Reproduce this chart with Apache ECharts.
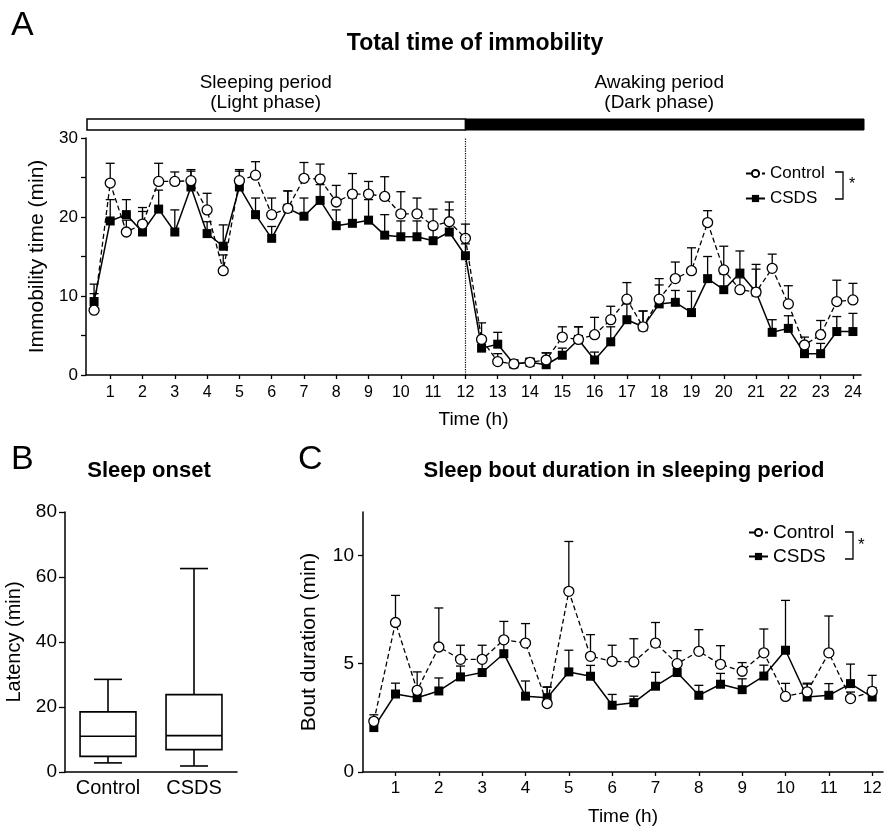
<!DOCTYPE html>
<html>
<head>
<meta charset="utf-8">
<script src="https://cdn.jsdelivr.net/npm/echarts@6/dist/echarts.min.js"></script>
<style>
  html, body { margin: 0; padding: 0; background: #fff; }
  #chart { width: 885px; height: 831px; }
</style>
</head>
<body>
<div id="chart"></div>
<script>
// Panel A: total time of immobility, every 30 min over 24 h
let hoursA = [0.5, 1, 1.5, 2, 2.5, 3, 3.5, 4, 4.5, 5, 5.5, 6, 6.5, 7, 7.5, 8, 8.5, 9, 9.5, 10, 10.5, 11, 11.5, 12,
  12.5, 13, 13.5, 14, 14.5, 15, 15.5, 16, 16.5, 17, 17.5, 18, 18.5, 19, 19.5, 20, 20.5, 21, 21.5, 22, 22.5, 23, 23.5, 24]
let controlA = [8.2, 24.3, 18.1, 19.1, 24.5, 24.5, 24.6, 20.9, 13.2, 24.6, 25.3, 20.3, 21.1, 24.9, 24.8, 21.9, 22.9, 22.9, 22.6, 20.4, 20.4, 18.9, 19.4, 17.3,
  4.5, 1.7, 1.4, 1.6, 1.9, 4.8, 4.5, 5.1, 7.0, 9.6, 6.1, 9.6, 12.2, 13.2, 19.3, 13.3, 10.8, 10.5, 13.5, 9.0, 3.8, 5.1, 9.3, 9.5]
let controlAErr = [2.1, 2.5, 1.5, 2.1, 2.3, 1.2, 1.4, 2.1, 2.0, 1.4, 1.7, 2.1, 2.2, 2.0, 1.9, 2.1, 2.6, 1.6, 2.5, 2.8, 2.0, 2.1, 2.5, 1.8,
  2.1, 1.0, 0.5, 0.5, 0.9, 1.3, 1.6, 2.2, 1.7, 2.1, 2.0, 2.6, 2.1, 2.9, 1.5, 3.0, 1.5, 2.9, 1.8, 2.3, 1.0, 1.8, 2.7, 2.1]
let csdsA = [9.3, 19.5, 20.3, 18.1, 21.0, 18.1, 23.8, 17.9, 16.3, 23.8, 20.3, 17.3, 21.1, 20.1, 22.1, 18.9, 19.2, 19.6, 17.7, 17.5, 17.5, 17.0, 18.1, 15.1,
  3.4, 3.9, 1.4, 1.6, 1.3, 2.5, 4.5, 1.9, 4.2, 7.0, 6.1, 9.0, 9.2, 7.9, 12.2, 10.8, 12.9, 10.5, 5.4, 5.9, 2.7, 2.7, 5.5, 5.5]
let csdsAErr = [2.2, 2.7, 1.9, 2.6, 2.4, 2.8, 2.0, 1.5, 2.7, 2.0, 2.1, 1.5, 2.2, 2.3, 2.0, 2.0, 3.2, 2.6, 2.6, 2.0, 2.0, 1.5, 2.8, 1.5,
  1.5, 1.5, 0.3, 0.5, 1.5, 0.9, 1.6, 1.0, 1.9, 2.0, 2.0, 2.4, 1.5, 2.7, 2.8, 2.0, 2.8, 3.5, 1.6, 1.6, 1.2, 1.3, 1.9, 2.3]
let ticksA = [1, 2, 3, 4, 5, 6, 7, 8, 9, 10, 11, 12, 13, 14, 15, 16, 17, 18, 19, 20, 21, 22, 23, 24]

// Panel B: sleep onset latency, [min, Q1, median, Q3, max]
let groupsB = ['Control', 'CSDS']
let boxB = [
  [2.8, 4.8, 11.0, 18.5, 28.5],
  [1.85, 6.9, 11.2, 23.8, 62.6]
]

// Panel C: sleep bout duration during the sleeping period
let hoursC = [0.5, 1, 1.5, 2, 2.5, 3, 3.5, 4, 4.5, 5, 5.5, 6, 6.5, 7, 7.5, 8, 8.5, 9, 9.5, 10, 10.5, 11, 11.5, 12]
let controlC = [2.34, 6.9, 3.77, 5.77, 5.2, 5.2, 6.1, 5.95, 3.16, 8.34, 5.34, 5.11, 5.08, 5.95, 5.0, 5.57, 4.97, 4.65, 5.5, 3.49, 3.7, 5.5, 3.39, 3.72]
let controlCErr = [0.3, 1.25, 0.85, 1.8, 0.65, 0.65, 0.85, 0.9, 0.75, 2.3, 1.0, 0.74, 1.07, 0.95, 0.6, 1.0, 0.86, 0.4, 1.1, 0.6, 0.4, 1.7, 0.3, 0.74]
let csdsC = [2.05, 3.6, 3.43, 3.74, 4.39, 4.59, 5.46, 3.5, 3.43, 4.62, 4.42, 3.08, 3.2, 3.96, 4.59, 3.54, 4.05, 3.8, 4.43, 5.62, 3.46, 3.54, 4.08, 3.46]
let csdsCErr = [0.3, 0.5, 0.4, 0.6, 0.5, 0.5, 0.6, 0.7, 0.5, 1.0, 0.5, 0.5, 0.3, 0.64, 0.5, 0.46, 0.5, 0.5, 0.5, 2.3, 0.6, 0.54, 0.9, 0.44]
let ticksC = [1, 2, 3, 4, 5, 6, 7, 8, 9, 10, 11, 12]

const FONT = '"Liberation Sans", Arial, sans-serif'
const BLACK = '#000'

function pairs(xs, ys) {
  return xs.map((x, i) => [x, ys[i]])
}
function triples(xs, ys, es) {
  return xs.map((x, i) => [x, ys[i], es[i]])
}

// upper-only error bar with a short cap
function errorBar(params, api) {
  let x = api.value(0)
  let y = api.value(1)
  let e = api.value(2)
  let p0 = api.coord([x, y])
  let p1 = api.coord([x, y + e])
  let style = {stroke: BLACK, lineWidth: 1.3}
  return {
    type: 'group',
    children: [
      {type: 'line', shape: {x1: p0[0], y1: p0[1], x2: p1[0], y2: p1[1]}, style: style},
      {type: 'line', shape: {x1: p1[0] - 4.5, y1: p1[1], x2: p1[0] + 4.5, y2: p1[1]}, style: style}
    ]
  }
}

// box with whisker caps half the box width
function boxItem(params, api) {
  let idx = api.value(0)
  let pMin = api.coord([idx, api.value(1)])
  let pQ1 = api.coord([idx, api.value(2)])
  let pMed = api.coord([idx, api.value(3)])
  let pQ3 = api.coord([idx, api.value(4)])
  let pMax = api.coord([idx, api.value(5)])
  let band = api.size([1, 0])[0]
  let half = band * 0.65 / 2
  let cap = half / 2
  let cx = pMed[0]
  let style = {stroke: BLACK, lineWidth: 1.6, fill: '#fff'}
  let ln = (x1, y1, x2, y2) => ({type: 'line', shape: {x1, y1, x2, y2}, style: {stroke: BLACK, lineWidth: 1.6}})
  return {
    type: 'group',
    children: [
      ln(cx, pMax[1], cx, pQ3[1]),
      ln(cx, pQ1[1], cx, pMin[1]),
      ln(cx - cap, pMax[1], cx + cap, pMax[1]),
      ln(cx - cap, pMin[1], cx + cap, pMin[1]),
      {type: 'rect', shape: {x: cx - half, y: pQ3[1], width: half * 2, height: pQ1[1] - pQ3[1]}, style: style},
      ln(cx - half, pMed[1], cx + half, pMed[1])
    ]
  }
}

function valueAxis(grid, opts) {
  return Object.assign({
    type: 'value',
    gridIndex: grid,
    nameLocation: 'middle',
    nameTextStyle: {fontFamily: FONT, color: BLACK, fontSize: 19},
    axisLine: {show: true, onZero: false, lineStyle: {color: BLACK, width: 1.5}},
    axisTick: {show: true, length: 5, lineStyle: {color: BLACK, width: 1.3}},
    axisLabel: {fontFamily: FONT, color: BLACK, fontSize: 16},
    splitLine: {show: false}
  }, opts)
}

let lineCommon = {
  type: 'line',
  symbolSize: 9,
  z: 3,
  animation: false
}

let controlStyle = {
  symbol: 'circle',
  symbolSize: 10,
  lineStyle: {color: BLACK, width: 1.3, type: [5, 3]},
  itemStyle: {color: '#fff', borderColor: BLACK, borderWidth: 1.3}
}
let csdsStyle = {
  symbol: 'rect',
  lineStyle: {color: BLACK, width: 1.5, type: 'solid'},
  itemStyle: {color: BLACK, borderColor: BLACK, borderWidth: 0}
}

let chart = echarts.init(document.getElementById('chart'), null, {renderer: 'canvas'})

let option = {
  backgroundColor: '#fff',
  animation: false,
  textStyle: {fontFamily: FONT},
  grid: [
    {left: 86, top: 138, width: 775, height: 237},
    {left: 65, top: 512, width: 172, height: 260},
    {left: 363, top: 512, width: 520, height: 260}
  ],
  xAxis: [
    valueAxis(0, {
      min: 0.25, max: 24.25,
      name: 'Time (h)', nameGap: 35,
      axisTick: {show: true, length: 4, customValues: ticksA, lineStyle: {color: BLACK, width: 1.3}},
      axisLabel: {fontFamily: FONT, color: BLACK, fontSize: 16, margin: 10, customValues: ticksA}
    }),
    {
      type: 'category', gridIndex: 1, data: groupsB,
      axisLine: {lineStyle: {color: BLACK, width: 1.5}},
      axisTick: {show: false},
      axisLabel: {fontFamily: FONT, color: BLACK, fontSize: 20, margin: 6}
    },
    valueAxis(2, {
      min: 0.25, max: 12.25,
      name: 'Time (h)', nameGap: 35,
      axisTick: {show: true, length: 4, customValues: ticksC, lineStyle: {color: BLACK, width: 1.3}},
      axisLabel: {fontFamily: FONT, color: BLACK, fontSize: 17, margin: 8, customValues: ticksC}
    })
  ],
  yAxis: [
    valueAxis(0, {
      min: 0, max: 30, interval: 5,
      name: 'Immobility time (min)', nameGap: 36,
      nameTextStyle: {fontFamily: FONT, color: BLACK, fontSize: 21},
      axisLabel: {fontFamily: FONT, color: BLACK, fontSize: 17, margin: 8, customValues: [0, 10, 20, 30]},
      axisTick: {show: true, length: 5, customValues: [0, 5, 10, 15, 20, 25, 30], lineStyle: {color: BLACK, width: 1.3}}
    }),
    valueAxis(1, {
      min: 0, max: 80, interval: 20,
      name: 'Latency (min)', nameGap: 41,
      nameTextStyle: {fontFamily: FONT, color: BLACK, fontSize: 20},
      axisLabel: {fontFamily: FONT, color: BLACK, fontSize: 19, margin: 8},
      axisTick: {show: true, length: 6, lineStyle: {color: BLACK, width: 1.3}}
    }),
    valueAxis(2, {
      min: 0, max: 12,
      name: 'Bout duration (min)', nameGap: 43,
      nameTextStyle: {fontFamily: FONT, color: BLACK, fontSize: 21},
      axisLabel: {fontFamily: FONT, color: BLACK, fontSize: 19, margin: 9, customValues: [0, 5, 10]},
      axisTick: {show: true, length: 5, customValues: [0, 5, 10], lineStyle: {color: BLACK, width: 1.3}}
    })
  ],
  legend: [
    {
      data: ['Control', 'CSDS'], orient: 'vertical', left: 740, top: 160,
      itemWidth: 19, itemHeight: 9, itemGap: 8, selectedMode: false,
      textStyle: {fontFamily: FONT, color: BLACK, fontSize: 17}
    },
    {
      data: ['Control', 'CSDS'], orient: 'vertical', left: 743, top: 518,
      itemWidth: 19, itemHeight: 9, itemGap: 5, selectedMode: false,
      textStyle: {fontFamily: FONT, color: BLACK, fontSize: 19}
    }
  ],
  series: [
    {
      type: 'custom', name: 'errA-control', xAxisIndex: 0, yAxisIndex: 0, z: 2,
      renderItem: errorBar, data: triples(hoursA, controlA, controlAErr), encode: {x: 0, y: 1}
    },
    {
      type: 'custom', name: 'errA-csds', xAxisIndex: 0, yAxisIndex: 0, z: 2,
      renderItem: errorBar, data: triples(hoursA, csdsA, csdsAErr), encode: {x: 0, y: 1}
    },
    Object.assign({}, lineCommon, csdsStyle, {
      name: 'CSDS', xAxisIndex: 0, yAxisIndex: 0, data: pairs(hoursA, csdsA)
    }),
    Object.assign({}, lineCommon, controlStyle, {
      name: 'Control', xAxisIndex: 0, yAxisIndex: 0, data: pairs(hoursA, controlA),
      markLine: {
        silent: true, symbol: 'none', label: {show: false},
        lineStyle: {color: BLACK, type: 'dotted', width: 1.2},
        data: [{xAxis: 12}]
      }
    }),
    {
      type: 'custom', name: 'boxB', xAxisIndex: 1, yAxisIndex: 1,
      renderItem: boxItem,
      data: boxB.map((b, i) => [i].concat(b)),
      encode: {x: 0, y: [1, 2, 3, 4, 5]}
    },
    {
      type: 'custom', name: 'errC-control', xAxisIndex: 2, yAxisIndex: 2, z: 2,
      renderItem: errorBar, data: triples(hoursC, controlC, controlCErr), encode: {x: 0, y: 1}
    },
    {
      type: 'custom', name: 'errC-csds', xAxisIndex: 2, yAxisIndex: 2, z: 2,
      renderItem: errorBar, data: triples(hoursC, csdsC, csdsCErr), encode: {x: 0, y: 1}
    },
    Object.assign({}, lineCommon, csdsStyle, {
      name: 'CSDS', xAxisIndex: 2, yAxisIndex: 2, data: pairs(hoursC, csdsC)
    }),
    Object.assign({}, lineCommon, controlStyle, {
      name: 'Control', xAxisIndex: 2, yAxisIndex: 2, data: pairs(hoursC, controlC)
    })
  ]
}

chart.setOption(option)

// light/dark bar above panel A, placed from the axis scale
let left = chart.convertToPixel({gridIndex: 0}, [0.25, 30])
let mid = chart.convertToPixel({gridIndex: 0}, [12, 30])
let right = chart.convertToPixel({gridIndex: 0}, [24.25, 30])
let barTop = 119
let barH = 11

function txt(x, y, text, size, weight, align) {
  return {
    type: 'text', x: x, y: y,
    style: {
      text: text, fill: BLACK, font: (weight || 'normal') + ' ' + size + 'px ' + FONT,
      textAlign: align || 'left', textVerticalAlign: 'middle'
    }
  }
}
function bracket(x, y1, y2) {
  return {
    type: 'polyline',
    shape: {points: [[x - 8, y1], [x, y1], [x, y2], [x - 8, y2]]},
    style: {stroke: BLACK, lineWidth: 1.3, fill: null}
  }
}

chart.setOption({
  graphic: [
    txt(11, 26, 'A', 34),
    txt(475, 44, 'Total time of immobility', 23, 'bold', 'center'),
    txt((left[0] + mid[0]) / 2 - 10, 83, 'Sleeping period', 19, 'normal', 'center'),
    txt((left[0] + mid[0]) / 2 - 10, 103, '(Light phase)', 19, 'normal', 'center'),
    txt((mid[0] + right[0]) / 2 - 4, 83, 'Awaking period', 19, 'normal', 'center'),
    txt((mid[0] + right[0]) / 2 - 4, 103, '(Dark phase)', 19, 'normal', 'center'),
    {
      type: 'rect', shape: {x: left[0] + 1, y: barTop, width: mid[0] - left[0] - 1, height: barH},
      style: {fill: '#fff', stroke: BLACK, lineWidth: 1.5}
    },
    {
      type: 'rect', shape: {x: mid[0], y: barTop, width: right[0] - mid[0] + 3, height: barH},
      style: {fill: BLACK, stroke: BLACK, lineWidth: 1}
    },
    bracket(843, 172, 199),
    txt(849, 185, '*', 16),
    txt(11, 460, 'B', 34),
    txt(149, 471, 'Sleep onset', 22, 'bold', 'center'),
    txt(298, 460, 'C', 34),
    txt(624, 471, 'Sleep bout duration in sleeping period', 22, 'bold', 'center'),
    bracket(853, 532, 559),
    txt(858, 545, '*', 17)
  ]
})
</script>
</body>
</html>
